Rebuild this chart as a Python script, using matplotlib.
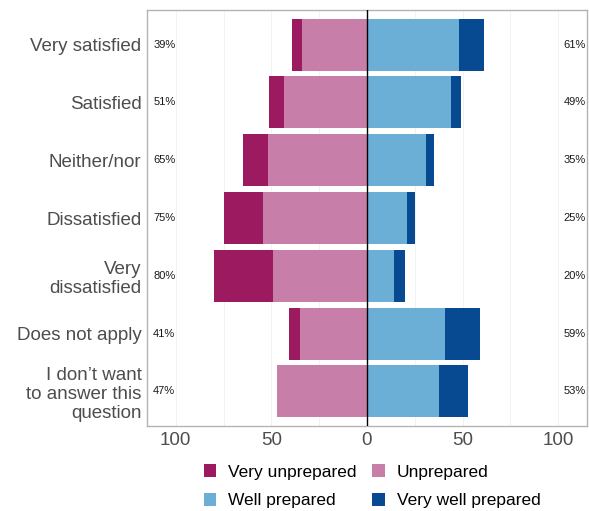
import matplotlib.pyplot as plt
import numpy as np

plt.rcParams['font.family'] = ['Liberation Sans', 'DejaVu Sans']

# data (percent of respondents)
categories = ["Very satisfied", "Satisfied", "Neither/nor", "Dissatisfied",
              "Very\ndissatisfied", "Does not apply",
              "I don\u2019t want\nto answer this\nquestion"]
very_unprepared = [5, 7.5, 13, 20.5, 31, 6, 0]
unprepared = [34, 43.5, 52, 54.5, 49, 35, 47]
well_prepared = [48, 44, 31, 21, 14, 41, 37.5]
very_well_prepared = [13, 5, 4, 4, 6, 18, 15.5]
neg_labels = ["39%", "51%", "65%", "75%", "80%", "41%", "47%"]
pos_labels = ["61%", "49%", "35%", "25%", "20%", "59%", "53%"]
xticks = [-100, -50, 0, 50, 100]

col_vu = "#9C1A5F"
col_u = "#C77FA9"
col_w = "#6BAED6"
col_vw = "#084A91"

fig = plt.figure(figsize=(5.89, 5.11), dpi=100)
ax = fig.add_axes([147 / 589, 1 - 426 / 511, 440 / 589, 416 / 511])

y = np.arange(len(categories))
u = np.array(unprepared)
vu = np.array(very_unprepared)
w = np.array(well_prepared)
vw = np.array(very_well_prepared)
h = 0.9

b_u = ax.barh(y, -u, height=h, color=col_u, label="Unprepared", zorder=2)
b_vu = ax.barh(y, -vu, left=-u, height=h, color=col_vu, label="Very unprepared", zorder=2)
b_w = ax.barh(y, w, height=h, color=col_w, label="Well prepared", zorder=2)
b_vw = ax.barh(y, vw, left=w, height=h, color=col_vw, label="Very well prepared", zorder=2)

ax.axvline(0, color="black", lw=1, zorder=3)

trans = ax.get_yaxis_transform()
for i in range(len(categories)):
    ax.text(0.014, y[i], neg_labels[i], transform=trans, ha="left", va="center",
            fontsize=8, color="#1a1a1a")
    ax.text(0.997, y[i], pos_labels[i], transform=trans, ha="right", va="center",
            fontsize=8, color="#1a1a1a")

ax.set_xlim(-115, 115)
ax.set_ylim(len(categories) - 0.4, -0.6)
ax.set_xticks(xticks)
ax.set_xticklabels([str(abs(t)) for t in xticks])
ax.set_xticks([-75, -25, 25, 75], minor=True)
ax.set_yticks(y)
ax.set_yticklabels(categories, linespacing=1.17)
ax.tick_params(axis="both", which="both", length=0, labelsize=13.5,
               labelcolor="#4d4d4d", pad=4)
ax.grid(axis="x", which="both", color="#f0f0f0", lw=0.6, zorder=0)
for s in ax.spines.values():
    s.set_color("#b3b3b3")
    s.set_linewidth(1)

fig.legend([b_vu, b_w, b_u, b_vw],
           ["Very unprepared", "Well prepared", "Unprepared", "Very well prepared"],
           ncol=2, loc="upper left", bbox_to_anchor=(204 / 589, 1 - 464 / 511),
           frameon=False, fontsize=12.5, borderpad=0, borderaxespad=0,
           handlelength=0.7, handleheight=0.8, handletextpad=0.7,
           columnspacing=0.9, labelspacing=0.75)

fig.savefig("out.png", dpi=100)
